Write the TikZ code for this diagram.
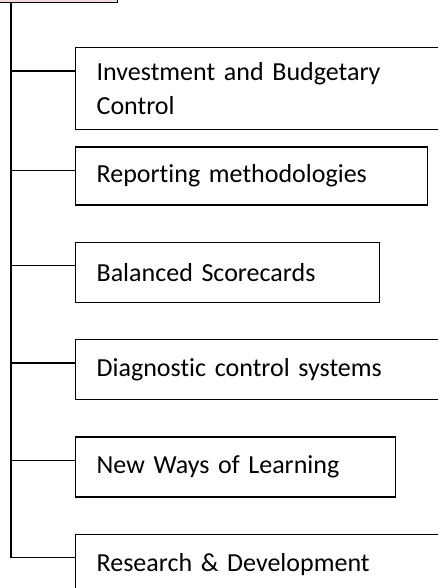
\documentclass[tikz,border=0pt]{standalone}
\usepackage{fontspec}
\setmainfont{Carlito}[Ligatures=NoCommon]
\usetikzlibrary{positioning}
\definecolor{rootpink}{HTML}{F2DCDB}

\begin{document}
\begin{tikzpicture}[
    x=1pt, y=-1pt,
    rootnode/.style = {rectangle, draw=black, fill=rootpink,
                       line width=1.3pt,
                       minimum width=160pt, minimum height=50pt},
    itemnode/.style = {rectangle, draw=black, line width=1.3pt,
                       anchor=north west, align=left,
                       inner xsep=21pt, inner ysep=0pt,
                       text width=#1,
                       minimum height=60pt,
                       font=\fontsize{26}{34}\selectfont},
    branch/.style = {line width=1.3pt}
]
    \clip (0,0) rectangle (438,588);

    \node[rootnode, anchor=south east] (root) at (118,3) {};

    \node[itemnode=420pt, minimum height=82pt] (b1) at (75,47)
        {Investment and Budgetary\\Control};
    \node[itemnode=310pt, minimum height=58pt] (b2)
        [below=16pt of b1.south west, anchor=north west] {Reporting methodologies};
    \node[itemnode=262pt] (b3)
        [below=36pt of b2.south west, anchor=north west] {Balanced Scorecards};
    \node[itemnode=420pt] (b4)
        [below=36pt of b3.south west, anchor=north west] {Diagnostic control systems};
    \node[itemnode=278pt] (b5)
        [below=36pt of b4.south west, anchor=north west] {New Ways of Learning};
    \node[itemnode=420pt] (b6)
        [below=36pt of b5.south west, anchor=north west] {Research \& Development};

    % where each branch meets its box
    \foreach \n in {1,...,6}
        \coordinate (b\n in) at ([yshift=-24pt]b\n.north west);
    \coordinate (spine) at (11,0);

    \draw[branch] (root.south -| spine) -- (spine |- b6in);
    \foreach \n in {1,...,6}
        \draw[branch] (spine |- b\n in) -- (b\n in);

\end{tikzpicture}
\end{document}
